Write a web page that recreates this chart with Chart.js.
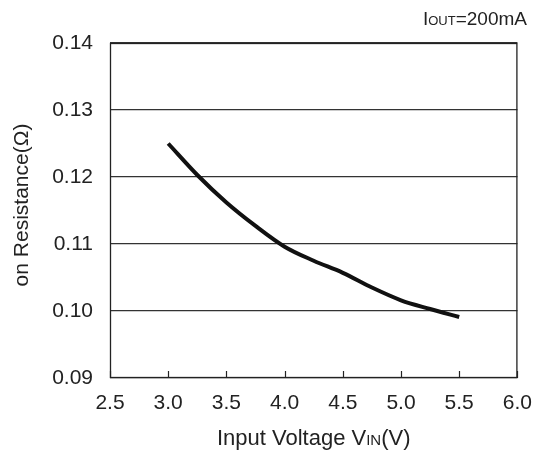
<!DOCTYPE html>
<html>
<head>
<meta charset="utf-8">
<script src="https://cdn.jsdelivr.net/npm/chart.js@4.4.0/dist/chart.umd.min.js"></script>
<style>
  html,body{margin:0;padding:0;background:#fff;}
  canvas{display:block;}
</style>
</head>
<body>
<canvas id="chart" width="545" height="452"></canvas>
<script>
// Input voltage (V) vs on-resistance (ohm), IOUT = 200mA
const vin = [3.0, 3.25, 3.5, 3.75, 4.0, 4.25, 4.5, 4.75, 5.0, 5.25, 5.5];
const ron = [0.125, 0.1203, 0.1162, 0.1127, 0.1096, 0.1075, 0.1057, 0.1035, 0.1016, 0.1003, 0.0991];

const xTicks = [2.5, 3.0, 3.5, 4.0, 4.5, 5.0, 5.5, 6.0];
const yTicks = [0.09, 0.10, 0.11, 0.12, 0.13, 0.14];

const FONT = "'Liberation Sans', Arial, sans-serif";

// draw text runs with a smaller middle part (like "I" + "OUT")
function drawRuns(ctx, runs, x, y, align){
  let total = 0;
  runs.forEach(r=>{ ctx.font = r.size + "px " + FONT; total += ctx.measureText(r.t).width; });
  let cx = align === "right" ? x - total : align === "center" ? x - total/2 : x;
  ctx.textAlign = "left";
  runs.forEach(r=>{
    ctx.font = r.size + "px " + FONT;
    ctx.fillText(r.t, cx, y);
    cx += ctx.measureText(r.t).width;
  });
}

const extras = {
  id: "extras",
  afterDraw(chart){
    const ctx = chart.ctx;
    const a = chart.chartArea;
    const xs = chart.scales.x;
    ctx.save();
    // inward tick marks on bottom axis
    ctx.strokeStyle = "#222";
    ctx.lineWidth = 1.2;
    xTicks.forEach(v=>{
      const px = Math.round(xs.getPixelForValue(v)) + 0.5;
      ctx.beginPath();
      ctx.moveTo(px, a.bottom);
      ctx.lineTo(px, a.bottom - 7);
      ctx.stroke();
    });
    // frame
    ctx.lineWidth = 1.3;
    ctx.strokeRect(a.left + 0.5, a.top + 0.5, a.right - a.left - 1, a.bottom - a.top - 1);

    ctx.fillStyle = "#222";
    ctx.textBaseline = "alphabetic";
    // condition text
    drawRuns(ctx, [{t:"I",size:19},{t:"OUT",size:13},{t:"=200mA",size:19}], 527, 25, "right");
    // x title
    drawRuns(ctx, [{t:"Input Voltage V",size:22},{t:"IN",size:15},{t:"(V)",size:22}], (a.left + a.right)/2, 445, "center");
    // y title
    ctx.translate(28, 205);
    ctx.rotate(-Math.PI/2);
    ctx.font = "21px " + FONT;
    ctx.textAlign = "center";
    ctx.fillText("on Resistance(\u03A9)", 0, 0);
    ctx.restore();
  }
};

new Chart(document.getElementById("chart"), {
  type: "line",
  data: {
    datasets: [{
      data: vin.map((v,i)=>({x:v, y:ron[i]})),
      borderColor: "#111",
      borderWidth: 4,
      pointRadius: 0,
      cubicInterpolationMode: "monotone",
      fill: false
    }]
  },
  options: {
    responsive: false,
    animation: false,
    devicePixelRatio: 1,
    layout: { padding: { left: 0, top: 43, right: 17, bottom: 0 } },
    plugins: { legend: { display: false }, tooltip: { enabled: false } },
    scales: {
      x: {
        type: "linear",
        min: 2.5, max: 6.0,
        afterBuildTicks: s => { s.ticks = xTicks.map(v=>({value:v})); },
        afterFit: s => { s.height = 74; },
        grid: { display: false, drawTicks: false },
        border: { display: false },
        ticks: {
          color: "#222",
          font: { family: FONT, size: 21 },
          padding: 13,
          maxRotation: 0,
          autoSkip: false,
          callback: v => v.toFixed(1)
        }
      },
      y: {
        min: 0.09, max: 0.14,
        afterBuildTicks: s => { s.ticks = yTicks.map(v=>({value:v})); },
        afterFit: s => { s.width = 110; },
        grid: { color: "#333", lineWidth: 1.3, drawTicks: false },
        border: { display: false },
        ticks: {
          color: "#222",
          font: { family: FONT, size: 21 },
          padding: 17,
          autoSkip: false,
          callback: v => v.toFixed(2)
        }
      }
    }
  },
  plugins: [extras]
});
</script>
</body>
</html>
